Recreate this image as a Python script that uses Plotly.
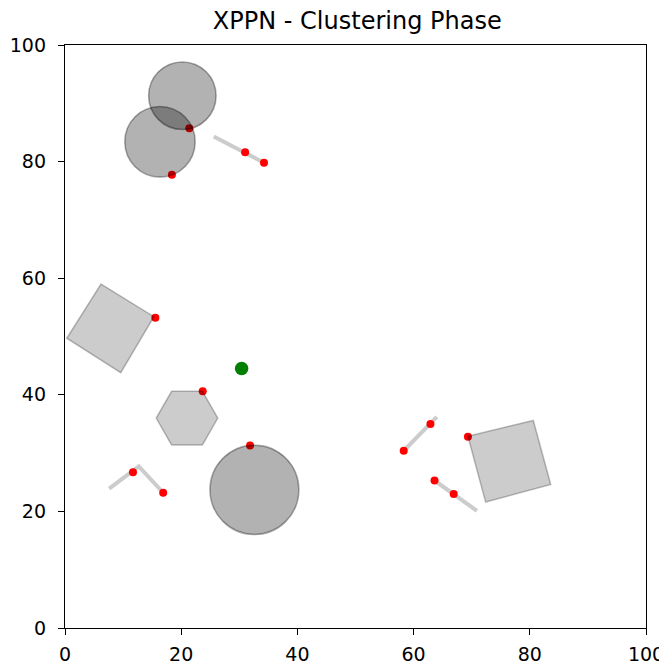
import plotly.graph_objects as go

# ---- data ----
circle_cx = [20.2, 16.35, 32.6]
circle_cy = [91.3, 83.4, 23.7]
circle_r = [5.8, 6.05, 7.65]

square_left_x = [6.2, 15.3, 9.6, 0.3]
square_left_y = [59.0, 53.4, 43.8, 49.7]
square_right_x = [69.35, 80.6, 83.6, 72.4]
square_right_y = [32.9, 35.6, 24.6, 21.6]

hexagon_x = [26.3, 23.65, 18.35, 15.7, 18.35, 23.65]
hexagon_y = [36.0, 40.6, 40.6, 36.0, 31.4, 31.4]

segments = [
    ([25.6, 34.25], [84.3, 79.8]),
    ([7.6, 12.7, 16.9], [23.9, 27.7, 23.2]),
    ([58.3, 64.0], [30.4, 36.2]),
    ([63.6, 70.9], [25.3, 20.1]),
]

red_x = [21.4, 18.4, 31.0, 34.25, 15.55, 23.7, 31.85, 11.7, 16.9, 58.3, 62.9, 69.35, 63.6, 66.9]
red_y = [85.7, 77.75, 81.6, 79.8, 53.2, 40.6, 31.3, 26.7, 23.2, 30.4, 35.0, 32.8, 25.3, 23.0]

green_x = [30.4]
green_y = [44.5]

tick_vals = [0, 20, 40, 60, 80, 100]

fig = go.Figure()

shapes = []
for cx, cy, r in zip(circle_cx, circle_cy, circle_r):
    shapes.append(dict(type="circle", xref="x", yref="y",
                       x0=cx - r, x1=cx + r, y0=cy - r, y1=cy + r,
                       fillcolor="rgba(0,0,0,0.3)",
                       line=dict(color="rgba(0,0,0,0.35)", width=1.5)))

def poly(xs, ys):
    d = "M " + " L ".join(f"{x},{y}" for x, y in zip(xs, ys)) + " Z"
    return dict(type="path", xref="x", yref="y", path=d,
                fillcolor="rgba(0,0,0,0.2)",
                line=dict(color="rgba(0,0,0,0.25)", width=1.5))

shapes.append(poly(square_left_x, square_left_y))
shapes.append(poly(square_right_x, square_right_y))
shapes.append(poly(hexagon_x, hexagon_y))

for sx, sy in segments:
    fig.add_trace(go.Scatter(x=sx, y=sy, mode="lines",
                             line=dict(color="#cccccc", width=4),
                             hoverinfo="skip", showlegend=False))

fig.add_trace(go.Scatter(x=red_x, y=red_y, mode="markers",
                         marker=dict(color="red", size=8), showlegend=False))
fig.add_trace(go.Scatter(x=green_x, y=green_y, mode="markers",
                         marker=dict(color="green", size=13.5), showlegend=False))

axis_common = dict(range=[0, 100], tickvals=tick_vals, ticks="outside", ticklen=6,
                   tickcolor="black", showline=True, linecolor="black", linewidth=1.3,
                   mirror=True, showgrid=False, zeroline=False, automargin=False,
                   ticklabeloverflow="allow",
                   tickfont=dict(family="DejaVu Sans", size=19, color="black"))

fig.update_layout(
    width=659, height=661,
    margin=dict(l=57, r=21, t=37, b=41, autoexpand=False),
    paper_bgcolor="white", plot_bgcolor="white",
    title=dict(text="XPPN - Clustering Phase", x=0.53, xanchor="center",
               yref="container", y=0.981, yanchor="middle",
               font=dict(family="DejaVu Sans", size=24, color="black")),
    xaxis=dict(**axis_common, ticklabelstandoff=3),
    yaxis=dict(**axis_common, ticklabelstandoff=8),
    shapes=shapes,
)

fig.write_html("out.html")
